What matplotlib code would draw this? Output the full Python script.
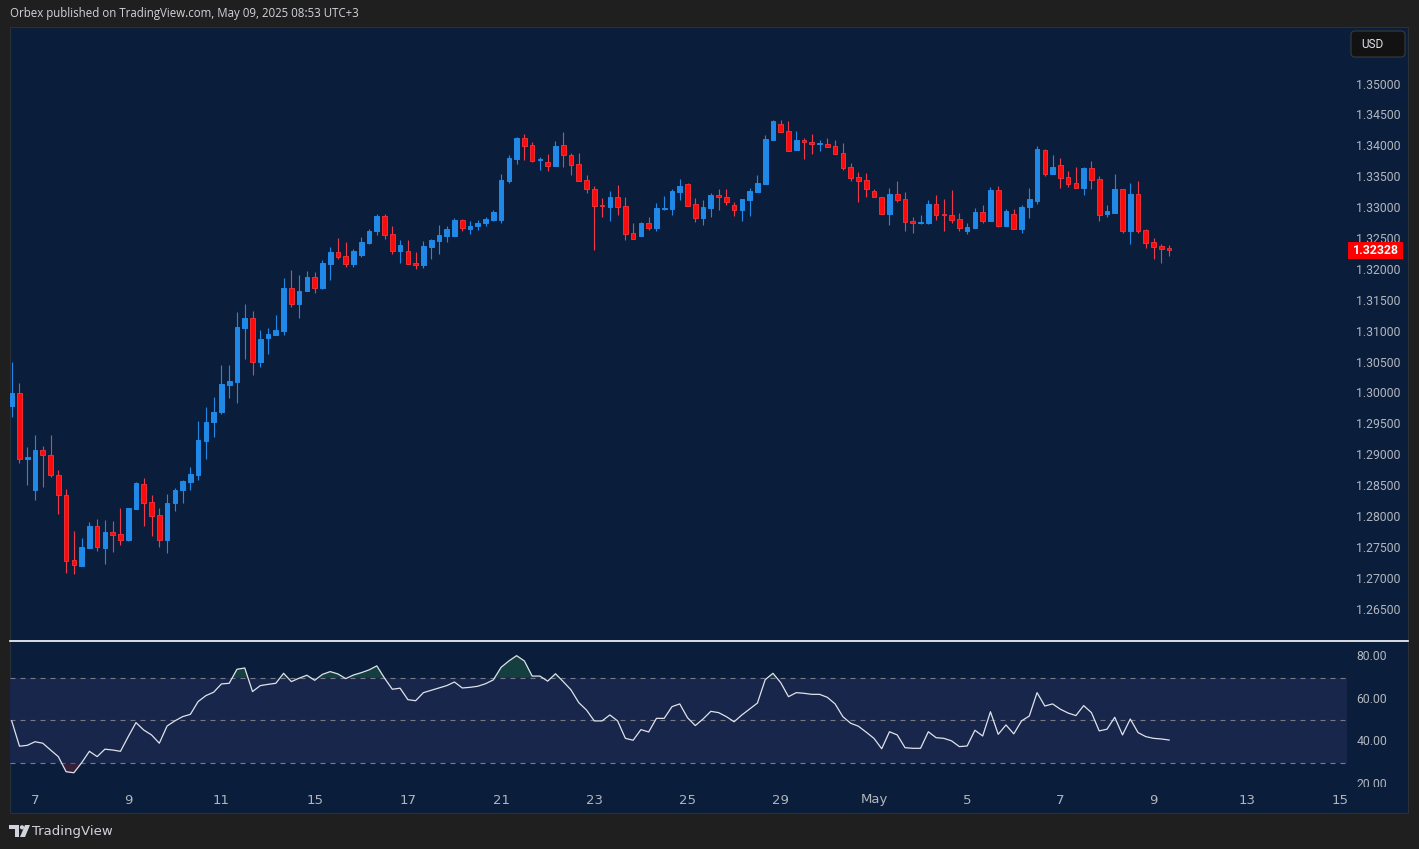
import matplotlib
matplotlib.use("Agg")
import matplotlib.pyplot as plt
import matplotlib.patches as mpatches
import matplotlib.transforms as mtransforms
from matplotlib.lines import Line2D
import numpy as np

# ---------------- data ----------------
opens = [
1.2981, 1.3001, 1.2894, 1.2845, 1.2909, 1.2902, 1.2869, 1.2837, 1.2731, 1.2721,
1.2751, 1.2786, 1.2751, 1.2777, 1.2773, 1.2764, 1.2814, 1.2855, 1.2825, 1.2804,
1.2764, 1.2823, 1.2844, 1.2858, 1.2869, 1.2924, 1.2954, 1.2971, 1.3015, 1.3020,
1.3107, 1.3123, 1.3051, 1.3091, 1.3095, 1.3102, 1.3172, 1.3145, 1.3166, 1.3189,
1.3172, 1.3211, 1.3230, 1.3223, 1.3211, 1.3225, 1.3245, 1.3263, 1.3288, 1.3259,
1.3232, 1.3231, 1.3212, 1.3208, 1.3238, 1.3248, 1.3256, 1.3256, 1.3282, 1.3267,
1.3272, 1.3276, 1.3282, 1.3282, 1.3345, 1.3380, 1.3414, 1.3403, 1.3379, 1.3375,
1.3369, 1.3403, 1.3387, 1.3372, 1.3346, 1.3332, 1.3306, 1.3303, 1.3319, 1.3304,
1.3261, 1.3255, 1.3277, 1.3269, 1.3299, 1.3299, 1.3327, 1.3340, 1.3307, 1.3285,
1.3301, 1.3322, 1.3319, 1.3306, 1.3298, 1.3314, 1.3327, 1.3340, 1.3411, 1.3437,
1.3426, 1.3395, 1.3411, 1.3408, 1.3405, 1.3404, 1.3401, 1.3390, 1.3367, 1.3351,
1.3346, 1.3328, 1.3319, 1.3292, 1.3324, 1.3316, 1.3280, 1.3277, 1.3277, 1.3307,
1.3291, 1.3290, 1.3283, 1.3263, 1.3269, 1.3295, 1.3280, 1.3330, 1.3272, 1.3291,
1.3267, 1.3302, 1.3313, 1.3395, 1.3356, 1.3371, 1.3351, 1.3341, 1.3334, 1.3366,
1.3348, 1.3292, 1.3293, 1.3332, 1.3264, 1.3324, 1.3265, 1.3246, 1.3239, 1.3236]

closes = [
1.3001, 1.2894, 1.2898, 1.2909, 1.2902, 1.2869, 1.2837, 1.2730, 1.2724, 1.2752,
1.2786, 1.2752, 1.2777, 1.2772, 1.2764, 1.2816, 1.2856, 1.2824, 1.2803, 1.2764,
1.2824, 1.2845, 1.2859, 1.2871, 1.2926, 1.2955, 1.2971, 1.3016, 1.3021, 1.3108,
1.3123, 1.3051, 1.3089, 1.3097, 1.3104, 1.3172, 1.3145, 1.3167, 1.3189, 1.3172,
1.3212, 1.3230, 1.3222, 1.3211, 1.3231, 1.3246, 1.3264, 1.3288, 1.3258, 1.3232,
1.3241, 1.3211, 1.3208, 1.3239, 1.3249, 1.3257, 1.3267, 1.3282, 1.3268, 1.3272,
1.3277, 1.3283, 1.3295, 1.3346, 1.3382, 1.3414, 1.3402, 1.3377, 1.3380, 1.3369,
1.3401, 1.3386, 1.3371, 1.3345, 1.3331, 1.3305, 1.3305, 1.3319, 1.3303, 1.3259,
1.3251, 1.3277, 1.3269, 1.3301, 1.3301, 1.3328, 1.3337, 1.3305, 1.3285, 1.3303,
1.3322, 1.3318, 1.3310, 1.3298, 1.3316, 1.3328, 1.3341, 1.3413, 1.3442, 1.3424,
1.3394, 1.3411, 1.3408, 1.3405, 1.3406, 1.3400, 1.3389, 1.3366, 1.3350, 1.3345,
1.3331, 1.3318, 1.3292, 1.3324, 1.3314, 1.3279, 1.3277, 1.3278, 1.3307, 1.3290,
1.3290, 1.3282, 1.3269, 1.3270, 1.3295, 1.3280, 1.3330, 1.3272, 1.3296, 1.3267,
1.3303, 1.3316, 1.3396, 1.3356, 1.3367, 1.3350, 1.3340, 1.3334, 1.3366, 1.3347,
1.3290, 1.3296, 1.3332, 1.3264, 1.3324, 1.3264, 1.3245, 1.3238, 1.3235, 1.32328]

highs = [
1.3051, 1.3017, 1.2914, 1.2933, 1.2916, 1.2933, 1.2877, 1.2846, 1.2778, 1.2767,
1.2793, 1.2798, 1.2796, 1.2794, 1.2816, 1.2816, 1.2858, 1.2864, 1.2837, 1.2816,
1.2838, 1.2848, 1.2861, 1.2882, 1.2956, 1.2979, 1.2995, 1.3047, 1.3047, 1.3133,
1.3146, 1.3134, 1.3104, 1.3107, 1.3128, 1.3188, 1.3201, 1.3193, 1.3199, 1.3197,
1.3217, 1.3238, 1.3252, 1.3246, 1.3235, 1.3254, 1.3267, 1.3291, 1.3291, 1.3272,
1.3249, 1.3249, 1.3230, 1.3248, 1.3251, 1.3273, 1.3272, 1.3285, 1.3283, 1.3280,
1.3282, 1.3286, 1.3298, 1.3356, 1.3387, 1.3416, 1.3421, 1.3408, 1.3383, 1.3388,
1.3409, 1.3424, 1.3390, 1.3390, 1.3354, 1.3337, 1.3317, 1.3328, 1.3338, 1.3319,
1.3277, 1.3278, 1.3286, 1.3309, 1.3320, 1.3332, 1.3348, 1.3341, 1.3317, 1.3314,
1.3325, 1.3332, 1.3332, 1.3311, 1.3316, 1.3333, 1.3354, 1.3419, 1.3443, 1.3443,
1.3442, 1.3426, 1.3414, 1.3421, 1.3411, 1.3414, 1.3411, 1.3406, 1.3374, 1.3359,
1.3358, 1.3332, 1.3319, 1.3333, 1.3345, 1.3327, 1.3286, 1.3290, 1.3314, 1.3322,
1.3316, 1.3330, 1.3293, 1.3277, 1.3301, 1.3306, 1.3335, 1.3337, 1.3299, 1.3299,
1.3306, 1.3333, 1.3401, 1.3396, 1.3387, 1.3382, 1.3361, 1.3367, 1.3367, 1.3377,
1.3353, 1.3306, 1.3356, 1.3332, 1.3341, 1.3345, 1.3267, 1.3252, 1.3243, 1.3241]

lows = [
1.2963, 1.2889, 1.2853, 1.2829, 1.2850, 1.2866, 1.2805, 1.2711, 1.2709, 1.2721,
1.2751, 1.2746, 1.2725, 1.2745, 1.2756, 1.2762, 1.2814, 1.2787, 1.2771, 1.2753,
1.2743, 1.2811, 1.2823, 1.2845, 1.2861, 1.2894, 1.2931, 1.2968, 1.2994, 1.2986,
1.3057, 1.3031, 1.3044, 1.3064, 1.3095, 1.3095, 1.3141, 1.3123, 1.3166, 1.3164,
1.3170, 1.3185, 1.3219, 1.3206, 1.3206, 1.3222, 1.3243, 1.3258, 1.3251, 1.3227,
1.3212, 1.3211, 1.3203, 1.3204, 1.3219, 1.3227, 1.3246, 1.3256, 1.3264, 1.3259,
1.3266, 1.3272, 1.3280, 1.3276, 1.3341, 1.3372, 1.3379, 1.3375, 1.3362, 1.3361,
1.3369, 1.3368, 1.3355, 1.3344, 1.3326, 1.3233, 1.3287, 1.3280, 1.3290, 1.3250,
1.3251, 1.3255, 1.3266, 1.3264, 1.3298, 1.3290, 1.3314, 1.3305, 1.3279, 1.3273,
1.3286, 1.3298, 1.3306, 1.3288, 1.3280, 1.3288, 1.3327, 1.3340, 1.3411, 1.3424,
1.3394, 1.3395, 1.3381, 1.3389, 1.3394, 1.3399, 1.3389, 1.3363, 1.3344, 1.3310,
1.3319, 1.3318, 1.3292, 1.3274, 1.3311, 1.3263, 1.3261, 1.3275, 1.3275, 1.3282,
1.3263, 1.3277, 1.3263, 1.3259, 1.3269, 1.3276, 1.3280, 1.3271, 1.3272, 1.3267,
1.3261, 1.3285, 1.3308, 1.3352, 1.3356, 1.3334, 1.3335, 1.3334, 1.3322, 1.3332,
1.3280, 1.3287, 1.3293, 1.3261, 1.3242, 1.3261, 1.3237, 1.3219, 1.3212, 1.3224]

rsi = [
49.7, 37.8, 38.2, 39.9, 39.2, 36.0, 32.9, 25.8, 25.3, 30.0,
35.4, 32.9, 36.4, 36.0, 35.4, 42.3, 48.9, 45.4, 43.1, 39.2,
47.3, 49.7, 51.7, 52.8, 58.8, 61.6, 63.2, 67.1, 67.4, 74.0,
74.6, 63.5, 66.3, 66.9, 67.4, 72.1, 68.2, 69.8, 71.2, 68.8,
71.6, 72.9, 71.8, 69.6, 71.3, 72.4, 73.7, 75.6, 69.8, 64.6,
65.1, 59.7, 59.2, 63.0, 64.1, 65.2, 66.3, 68.0, 65.2, 65.5,
66.0, 67.2, 69.0, 74.9, 77.9, 80.4, 77.9, 70.8, 70.8, 68.4,
71.9, 68.2, 64.3, 58.3, 54.8, 49.7, 49.7, 52.5, 49.7, 41.5,
40.6, 45.6, 44.5, 50.9, 50.9, 56.4, 57.7, 51.2, 47.5, 50.6,
54.2, 53.6, 51.7, 49.3, 52.5, 55.3, 58.1, 69.1, 72.1, 67.7,
61.1, 63.0, 62.7, 62.2, 62.2, 60.8, 57.7, 51.7, 48.6, 47.2,
44.4, 41.5, 36.6, 44.6, 43.1, 37.1, 36.8, 36.8, 44.6, 41.8,
41.5, 40.3, 37.6, 37.9, 45.3, 42.6, 54.0, 43.4, 47.8, 43.6,
49.7, 52.0, 63.0, 56.7, 57.7, 55.2, 53.4, 52.2, 56.9, 53.6,
45.0, 45.8, 51.4, 43.1, 50.6, 44.2, 42.3, 41.5, 41.2, 40.7]

price_ticks = [1.265, 1.27, 1.275, 1.28, 1.285, 1.29, 1.295, 1.30, 1.305,
               1.31, 1.315, 1.32, 1.325, 1.33, 1.335, 1.34, 1.345, 1.35]
rsi_ticks = [20, 40, 60, 80]
rsi_levels = [30, 50, 70]
date_labels = ['7', '9', '11', '15', '17', '21', '23', '25', '29', 'May',
               '5', '7', '9', '13', '15']
bars_per_day = 6
first_day_bar = 3
last_price = 1.32328
header = "Orbex published on TradingView.com, May 09, 2025 08:53 UTC+3"

# ---------------- style ----------------
W, H, DPI = 1419, 849, 100
OUTER = '#1f1f1f'
NAVY = '#0a1e3b'
BAND = '#17264a'
UP = '#2089e8'
DOWN_FILL = '#ff0a0a'
DOWN_EDGE = '#e8303a'
DOWN_WICK = '#f0394a'
TXT = '#b2b5be'


def fx(px):
    return px / W


def fy(py):
    return 1 - py / H


fig = plt.figure(figsize=(W / DPI, H / DPI), dpi=DPI, facecolor=OUTER)

# chart panel (background axes)
bg = fig.add_axes([fx(10), fy(813), 1398 / W, 786 / H], zorder=-10)
bg.set_facecolor(NAVY)
bg.set_xticks([]); bg.set_yticks([])
for s in bg.spines.values():
    s.set_color('#2b2f3a'); s.set_linewidth(0.8)

n = len(opens)
x = np.arange(n)
o = np.array(opens); c = np.array(closes)
h = np.maximum(np.array(highs), np.maximum(o, c))
l = np.minimum(np.array(lows), np.minimum(o, c))
up = c >= o

XMIN, XMAX = -0.22, 171.9
YLO, YHI = 1.26019, 1.35939

ax = fig.add_axes([fx(10), fy(640), 1337 / W, 613 / H])
ax.set_facecolor('none')
ax.set_xlim(XMIN, XMAX)
ax.set_ylim(YLO, YHI)
ax.axis('off')

wick_cols = [UP if u else DOWN_WICK for u in up]
ax.vlines(x, l, h, colors=wick_cols, linewidth=0.8, zorder=2)
body_bot = np.minimum(o, c)
body_h = np.maximum(np.abs(c - o), 0.00013)
ax.bar(x, body_h, bottom=body_bot, width=0.6,
       color=[UP if u else DOWN_FILL for u in up],
       edgecolor=[UP if u else DOWN_EDGE for u in up],
       linewidth=0.7, zorder=3)

# price scale
sp = fig.add_axes([fx(1347), fy(640), 61 / W, 613 / H])
sp.set_facecolor('none')
sp.set_xlim(0, 1)
sp.set_ylim(YLO, YHI)
sp.axis('off')
for t in price_ticks:
    sp.text(0.15, t, f'{t:.5f}', color=TXT, fontsize=8.8, family='Roboto',
            va='center', ha='left', clip_on=True)
ppu = 613 / (YHI - YLO)
box_h = 17 / ppu
sp.add_patch(mpatches.Rectangle((0.02, last_price - box_h / 2), 0.9, box_h,
                                facecolor='#ff0000', edgecolor='none', zorder=5))
sp.text(0.47, last_price, f'{last_price:.5f}', color='white', fontsize=8.8,
        family='Roboto', fontweight='bold', va='center', ha='center', zorder=6)

# USD box
fig.patches.append(mpatches.FancyBboxPatch((13.51, (H - 57) / 100), 0.54, 0.26,
                                           boxstyle='round,pad=0,rounding_size=0.04',
                                           transform=fig.dpi_scale_trans,
                                           facecolor='#121212', edgecolor='#3a3a3a',
                                           linewidth=0.8, zorder=3))
fig.text(fx(1361), fy(44.5), 'USD', color='#e0e3eb', fontsize=8.5, family='Roboto',
         va='center', ha='left', zorder=4)

# RSI pane
RLO, RHI = 18.6, 87.3
ar = fig.add_axes([fx(10), fy(787), 1337 / W, 146 / H])
ar.set_facecolor('none')
ar.set_xlim(XMIN, XMAX)
ar.set_ylim(RLO, RHI)
ar.axis('off')
ar.axhspan(rsi_levels[0], rsi_levels[2], color=BAND, zorder=1, linewidth=0)
for lv in rsi_levels:
    ar.axhline(lv, color='#787b86', linewidth=0.8, dashes=(4.5, 4.5), zorder=2)
r = np.array(rsi)
ar.fill_between(x, r, rsi_levels[2], where=r >= rsi_levels[2], interpolate=True,
                color='#1f5a46', alpha=0.55, linewidth=0, zorder=2)
ar.fill_between(x, r, rsi_levels[0], where=r <= rsi_levels[0], interpolate=True,
                color='#5a2038', alpha=0.55, linewidth=0, zorder=2)
ar.plot(x, r, color='#dfe2ea', linewidth=0.9, zorder=4)

sr = fig.add_axes([fx(1347), fy(787), 61 / W, 146 / H])
sr.set_facecolor('none')
sr.set_xlim(0, 1)
sr.set_ylim(RLO, RHI)
sr.axis('off')
for t in rsi_ticks:
    sr.text(0.15, t, f'{t:.2f}', color=TXT, fontsize=8.8, family='Roboto',
            va='center', ha='left', clip_on=True)

# separator between panes
fig.add_artist(Line2D([fx(10), fx(1408)], [fy(640.5), fy(640.5)],
                      transform=fig.transFigure, color='white', linewidth=1.2))

# time axis
bt = mtransforms.blended_transform_factory(ar.transData, fig.transFigure)
for k, lab in enumerate(date_labels):
    pos = first_day_bar + 2 * bars_per_day * k
    fig.text(pos, fy(800), lab, transform=bt, color=TXT, fontsize=9.5,
             family=['Liberation Sans Narrow', 'DejaVu Sans'],
             va='center', ha='center')

# header
fig.text(fx(10), fy(14), header, color='#d1d4dc', fontsize=8.3, family='Open Sans',
         va='center', ha='left')

# footer logo
logo = [
    mpatches.Polygon([(9, 825), (19, 825), (19, 837), (15, 837), (15, 829), (9, 829)], closed=True),
    mpatches.Circle((22, 827.3), 2.1),
    mpatches.Polygon([(25, 825), (30, 825), (25, 837), (20, 837)], closed=True),
]
pix = mtransforms.Affine2D().scale(1 / W, -1 / H).translate(0, 1) + fig.transFigure
for p in logo:
    p.set_transform(pix)
    p.set_facecolor('#d1d4dc')
    p.set_edgecolor('none')
    fig.add_artist(p)
fig.text(fx(32), fy(831), 'TradingView', color='#d1d4dc', fontsize=9.5,
         family=['Liberation Sans Narrow', 'DejaVu Sans'], va='center', ha='left')

fig.savefig('out.png', dpi=DPI, facecolor=OUTER)
